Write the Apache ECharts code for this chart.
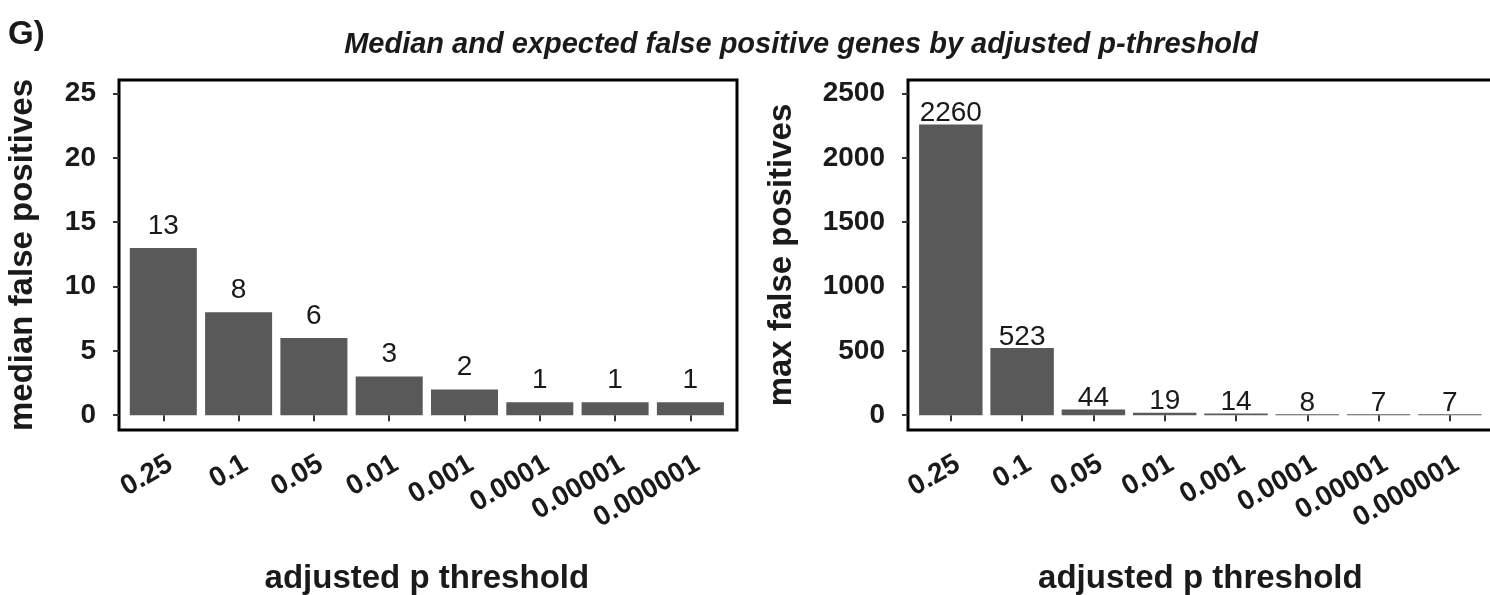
<!DOCTYPE html>
<html>
<head>
<meta charset="utf-8">
<script src="https://cdn.jsdelivr.net/npm/echarts@6/dist/echarts.min.js"></script>
<style>
  html, body { margin: 0; padding: 0; background: #fff; }
  #chart { width: 1490px; height: 595px; }
</style>
</head>
<body>
<div id="chart"></div>
<script>
// Adjusted p-value thresholds (x categories)
const thresholds = ['0.25', '0.1', '0.05', '0.01', '0.001', '0.0001', '0.00001', '0.000001'];
// Median number of false positive genes per threshold
const medianFP = [13, 8, 6, 3, 2, 1, 1, 1];
// Maximum number of false positive genes per threshold
const maxFP = [2260, 523, 44, 19, 14, 8, 7, 7];
// Y tick values for each panel
const medianTicks = [0, 5, 10, 15, 20, 25];
const maxTicks = [0, 500, 1000, 1500, 2000, 2500];

const FONT = 'Liberation Sans, Arial, Helvetica, sans-serif';
const BAR = '#595959';
const INK = '#1a1a1a';

const chart = echarts.init(document.getElementById('chart'), null, { renderer: 'canvas' });

function valueAxis(gridIndex, min, max, ticks, offset, name, nameGap) {
  return {
    type: 'value', gridIndex, min, max, offset,
    axisLine: { show: false },
    splitLine: { show: false },
    axisTick: { show: true, customValues: ticks, length: 6, lineStyle: { color: '#333', width: 2 } },
    axisLabel: { customValues: ticks, formatter: v => String(v), fontFamily: FONT, fontSize: 28, fontWeight: 'bold', color: INK, margin: 23 },
    name, nameLocation: 'middle', nameGap, nameRotate: 90,
    nameTextStyle: { fontFamily: FONT, fontSize: 33, fontWeight: 'bold', color: INK }
  };
}

function catAxis(gridIndex) {
  return {
    type: 'category', gridIndex, data: thresholds,
    axisLine: { show: false },
    axisTick: { show: true, alignWithLabel: true, length: 6, lineStyle: { color: '#333', width: 2 } },
    axisLabel: { interval: 0, rotate: 30, align: 'right', verticalAlign: 'top',
      fontFamily: FONT, fontSize: 28, fontWeight: 'bold', color: INK, margin: 20 },
    name: 'adjusted p threshold', nameLocation: 'middle', nameGap: 132,
    nameTextStyle: { fontFamily: FONT, fontSize: 33, fontWeight: 'bold', color: INK }
  };
}

function frameAxes(gridIndex) {
  return {
    x: { type: 'value', gridIndex, show: false, min: 0, max: 1 },
    y: { type: 'value', gridIndex, show: false, min: 0, max: 1 }
  };
}

const fL = frameAxes(1), fR = frameAxes(3);
const noBounds = { outerBoundsMode: 'none', containLabel: false };

const option = {
  animation: false,
  backgroundColor: '#fff',
  graphic: [
    { type: 'text', left: 8, top: 18, style: { text: 'G)', font: 'bold 33px ' + FONT, fill: INK } },
    { type: 'text', x: 801, y: 45, style: { text: 'Median and expected false positive genes by adjusted p-threshold',
      font: 'italic bold 29px ' + FONT, fill: INK, align: 'center', verticalAlign: 'middle' } }
  ],
  grid: [
    Object.assign({ left: 125.65, width: 602.4, top: 80, height: 350 }, noBounds),
    Object.assign({ left: 119, width: 618, top: 80, height: 350, show: true, borderColor: '#000', borderWidth: 3, backgroundColor: 'transparent' }, noBounds),
    Object.assign({ left: 915.15, width: 570.4, top: 80, height: 350 }, noBounds),
    Object.assign({ left: 908, width: 590, top: 80, height: 350, show: true, borderColor: '#000', borderWidth: 3, backgroundColor: 'transparent' }, noBounds)
  ],
  xAxis: [catAxis(0), fL.x, catAxis(2), fR.x],
  yAxis: [
    valueAxis(0, -1.15, 26.05, medianTicks, 6.65, 'median false positives', 80),
    fL.y,
    valueAxis(2, -115, 2605, maxTicks, 7.15, 'max false positives', 110),
    fR.y
  ],
  series: [
    {
      type: 'bar', xAxisIndex: 0, yAxisIndex: 0, data: medianFP, barWidth: '89%',
      itemStyle: { color: BAR },
      label: { show: true, position: 'top', distance: 8, fontFamily: FONT, fontSize: 28, color: INK }
    },
    {
      type: 'bar', xAxisIndex: 2, yAxisIndex: 2, data: maxFP, barWidth: '89%',
      itemStyle: { color: BAR },
      label: { show: true, position: 'top', distance: -3, fontFamily: FONT, fontSize: 28, color: INK }
    }
  ]
};

chart.setOption(option);
</script>
</body>
</html>
